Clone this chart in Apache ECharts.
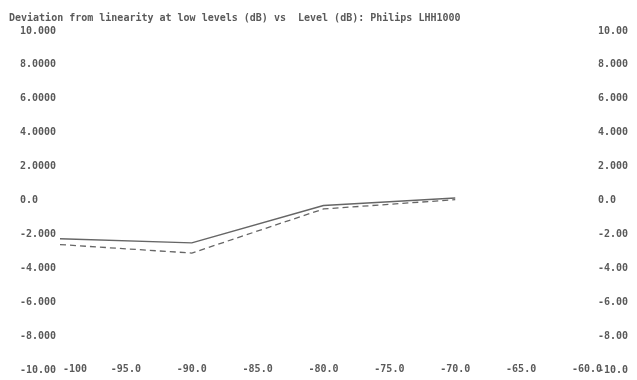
<!DOCTYPE html>
<html>
<head>
<meta charset="utf-8">
<script src="https://cdn.jsdelivr.net/npm/echarts@6/dist/echarts.min.js"></script>
<style>html,body{margin:0;padding:0;background:#fff}#c{width:637px;height:380px}</style>
</head>
<body>
<div id="c"></div>
<script>
const titleText = "Deviation from linearity at low levels (dB) vs  Level (dB): Philips LHH1000";
const levels = [-100, -90, -80, -70];
const solidSeries = [-2.25, -2.5, -0.3, 0.15];
const dashedSeries = [-2.6, -3.1, -0.5, 0.05];
const leftTickLabels = {"10":"10.000","8":"8.0000","6":"6.0000","4":"4.0000","2":"2.0000","0":"0.0","-2":"-2.000","-4":"-4.000","-6":"-6.000","-8":"-8.000","-10":"-10.00"};
const rightTickLabels = {"10":"10.00","8":"8.000","6":"6.000","4":"4.000","2":"2.000","0":"0.0","-2":"-2.00","-4":"-4.00","-6":"-6.00","-8":"-8.00","-10":"-10.0"};

const font = "DejaVu Sans Mono";
const txtColor = "#5a5a5a";
const chart = echarts.init(document.getElementById('c'));
chart.setOption({
  backgroundColor: '#fff',
  animation: false,
  title: {
    text: titleText, left: 4, top: 8,
    textStyle: { fontFamily: font, fontSize: 10, fontWeight: 'bold', color: txtColor }
  },
  grid: { left: 60, right: 50, top: 31, bottom: 10 },
  xAxis: {
    type: 'value', min: -100, max: -60, interval: 5,
    axisLine: { show: false }, axisTick: { show: false }, splitLine: { show: false },
    axisLabel: {
      margin: -1, verticalAlign: 'middle',
      fontFamily: font, fontSize: 10, fontWeight: 'bold', color: txtColor,
      formatter: v => v === -100 ? '{a|-100}' : v.toFixed(1),
      rich: { a: { padding: [0, 0, 0, 30], fontFamily: font, fontSize: 10, fontWeight: 'bold', color: txtColor } }
    }
  },
  yAxis: [
    {
      type: 'value', min: -10, max: 10, interval: 2, position: 'left',
      axisLine: { show: false }, axisTick: { show: false }, splitLine: { show: false },
      axisLabel: {
        align: 'left', margin: 40,
        fontFamily: font, fontSize: 10, fontWeight: 'bold', color: txtColor,
        formatter: v => leftTickLabels[String(v)]
      }
    },
    {
      type: 'value', min: -10, max: 10, interval: 2, position: 'right',
      axisLine: { show: false }, axisTick: { show: false }, splitLine: { show: false },
      axisLabel: {
        align: 'left', margin: 11,
        fontFamily: font, fontSize: 10, fontWeight: 'bold', color: txtColor,
        formatter: v => rightTickLabels[String(v)]
      }
    }
  ],
  series: [
    {
      type: 'line', showSymbol: false, symbol: 'none',
      data: levels.map((x, i) => [x, solidSeries[i]]),
      lineStyle: { color: '#666', width: 1.5, type: 'solid' }
    },
    {
      type: 'line', showSymbol: false, symbol: 'none',
      data: levels.map((x, i) => [x, dashedSeries[i]]),
      lineStyle: { color: '#666', width: 1.3, type: [6, 4] }
    }
  ]
});
</script>
</body>
</html>
